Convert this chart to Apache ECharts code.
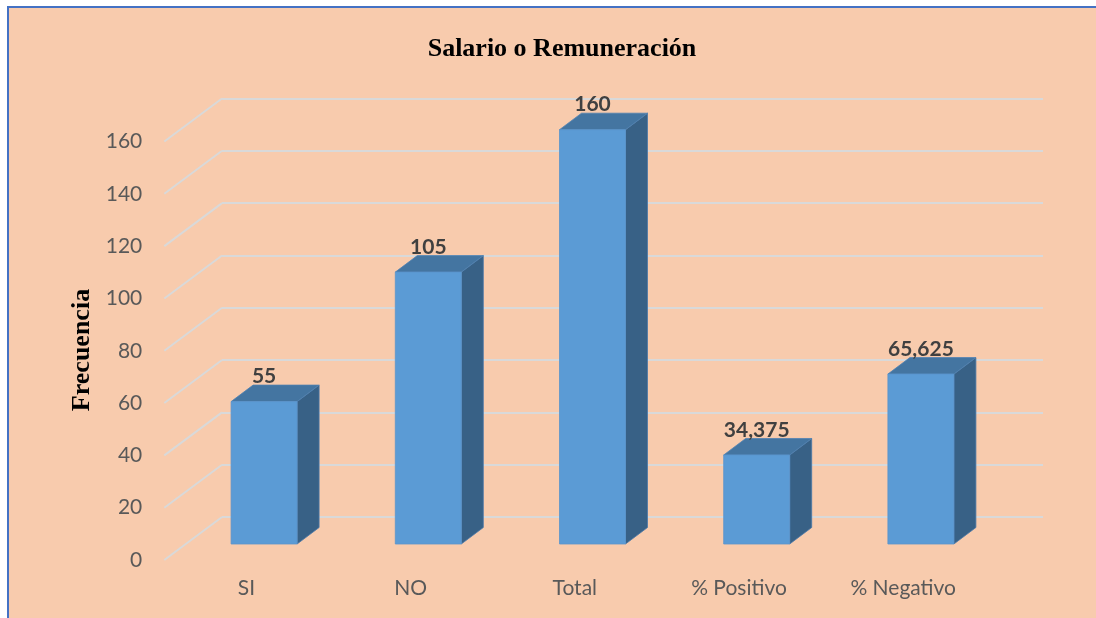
<!DOCTYPE html>
<html>
<head>
<meta charset="utf-8">
<title>Salario o Remuneración</title>
<script src="https://cdn.jsdelivr.net/npm/echarts@6/dist/echarts.min.js"></script>
<style>
    html, body { margin: 0; padding: 0; background: #fff; }
    #main { width: 1096px; height: 618px; }
</style>
</head>
<body>
<div id="main"></div>
<script>
var categories = ['SI', 'NO', 'Total', '% Positivo', '% Negativo'];
var values = [55, 105, 160, 34.375, 65.625];
var yTicks = [0, 20, 40, 60, 80, 100, 120, 140, 160];

// 3d look: floor offset of the front plane, bar offset and depth
var FLOOR_DX = -57.7, FLOOR_DY = 43;
var BAR_SHIFT_X = -40, BAR_SHIFT_Y = 27;
var BAR_W = 66, BAR_DX = 22, BAR_DY = -16.5;

var textColor = '#595959';
var font = 'Lato, "Open Sans", sans-serif';

function fmt(v) {
    return String(v).replace('.', ',');
}

function renderDiag(params, api) {
    var cs = params.coordSys;
    var y = api.coord([0, api.value(1)])[1];
    return {
        type: 'line',
        shape: { x1: cs.x + FLOOR_DX, y1: y + FLOOR_DY, x2: cs.x, y2: y },
        style: { stroke: '#D9D9D9', lineWidth: 2 }
    };
}

function renderBar(params, api) {
    var i = api.value(0), v = api.value(1);
    var c = api.coord([i, v]);
    var c0 = api.coord([i, 0]);
    var h = (c0[1] - c[1]) * 0.99;
    var xl = c[0] + BAR_SHIFT_X - BAR_W / 2;
    var xr = xl + BAR_W;
    var yb = c0[1] + BAR_SHIFT_Y;
    var yt = yb - h;
    return {
        type: 'group',
        children: [
            {
                type: 'polygon',
                shape: { points: [[xr, yt], [xr + BAR_DX, yt + BAR_DY], [xr + BAR_DX, yb + BAR_DY], [xr, yb]] },
                style: { fill: '#386186', stroke: '#4a79a8', lineWidth: 0.8 }
            },
            {
                type: 'polygon',
                shape: { points: [[xl, yt], [xr, yt], [xr + BAR_DX, yt + BAR_DY], [xl + BAR_DX, yt + BAR_DY]] },
                style: { fill: '#4475A1', stroke: '#4f82b3', lineWidth: 0.8 }
            },
            {
                type: 'rect',
                shape: { x: xl, y: yt, width: BAR_W, height: h },
                style: { fill: '#5B9BD5', stroke: '#5a94cb', lineWidth: 0.8 }
            },
            {
                type: 'text',
                style: {
                    text: fmt(v),
                    x: c[0] + BAR_SHIFT_X,
                    y: yt - 25,
                    align: 'center',
                    verticalAlign: 'middle',
                    fill: '#404040',
                    font: 'bold 21px ' + font
                }
            }
        ]
    };
}

var chart = echarts.init(document.getElementById('main'));

var option = {
    backgroundColor: '#F8CBAD',
    animation: false,
    title: {
        text: 'Salario o Remuneración',
        left: 557,
        top: 31,
        textAlign: 'center',
        textStyle: { fontFamily: '"Liberation Serif", serif', fontWeight: 'bold', fontSize: 26, color: '#000' }
    },
    graphic: [
        { type: 'rect', shape: { x: 0, y: 0, width: 7, height: 618 }, style: { fill: '#fff' } },
        { type: 'rect', shape: { x: 0, y: 0, width: 1096, height: 6 }, style: { fill: '#fff' } },
        { type: 'rect', shape: { x: 7, y: 6, width: 2, height: 612 }, style: { fill: '#4472C4' } },
        { type: 'rect', shape: { x: 7, y: 6, width: 1089, height: 2 }, style: { fill: '#4472C4' } },
        {
            type: 'text',
            x: 82, y: 350,
            rotation: Math.PI / 2,
            style: {
                text: 'Frecuencia',
                align: 'center',
                verticalAlign: 'middle',
                fill: '#000',
                font: 'bold 26px "Liberation Serif", serif'
            }
        }
    ],
    grid: [
        { left: 222, right: 53, top: 98.5, bottom: 101 },
        { left: 164.3, right: 110.7, top: 141.5, bottom: 58 }
    ],
    xAxis: [
        {
            type: 'category', gridIndex: 0, data: categories,
            axisLine: { show: false }, axisTick: { show: false }, axisLabel: { show: false }
        },
        {
            type: 'category', gridIndex: 1, data: categories,
            axisLine: { show: false }, axisTick: { show: false },
            axisLabel: { margin: 18, color: textColor, fontSize: 21, fontFamily: font }
        }
    ],
    yAxis: [
        {
            type: 'value', gridIndex: 0, min: 0, max: 160, interval: 20,
            axisLine: { show: false }, axisTick: { show: false }, axisLabel: { show: false },
            splitLine: { lineStyle: { color: '#D9D9D9', width: 2 } }
        },
        {
            type: 'value', gridIndex: 1, min: 0, max: 160, interval: 20,
            axisLine: { show: false }, axisTick: { show: false }, splitLine: { show: false },
            axisLabel: { margin: 22, color: textColor, fontSize: 21, fontFamily: font }
        }
    ],
    series: [
        {
            name: 'floor',
            type: 'custom',
            xAxisIndex: 0, yAxisIndex: 0,
            renderItem: renderDiag,
            data: yTicks.map(function (t) { return [0, t]; }),
            silent: true,
            z: 1
        },
        {
            name: 'Frecuencia',
            type: 'custom',
            xAxisIndex: 0, yAxisIndex: 0,
            renderItem: renderBar,
            encode: { x: 0, y: 1 },
            data: values.map(function (v, i) { return [i, v]; }),
            z: 3
        }
    ]
};

chart.setOption(option);
</script>
</body>
</html>
